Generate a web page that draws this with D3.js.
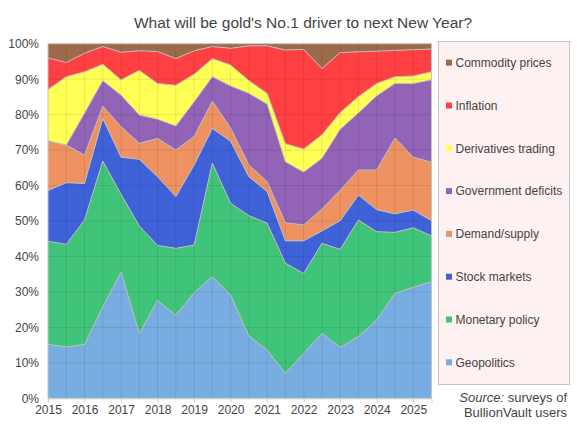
<!DOCTYPE html>
<html>
<head>
<meta charset="utf-8">
<style>
  body { margin: 0; background: #fff; }
  svg { display: block; font-family: "Liberation Sans", Arial, sans-serif; }
</style>
</head>
<body>
<script src="https://d3js.org/d3.v7.min.js"></script>
<script>
  // survey dates, half-yearly
  const years = [2015, 2015.5, 2016, 2016.5, 2017, 2017.5, 2018, 2018.5, 2019, 2019.5,
    2020, 2020.5, 2021, 2021.5, 2022, 2022.5, 2023, 2023.5, 2024, 2024.5, 2025, 2025.5]

  // share of votes, %
  const geopolitics = [15.2, 14.5, 15.2, 25.8, 35.6, 18.3, 27.6, 23.4, 29.8, 34.3, 29.1, 17.6, 13.6, 7.0, 12.7, 18.3, 14.4, 17.4, 22.1, 29.6, 31.3, 32.9]
  const monetary = [29.1, 28.9, 35.1, 41.1, 21.9, 30.3, 15.5, 18.9, 13.4, 32.0, 25.9, 33.9, 35.8, 31.1, 22.5, 25.4, 27.6, 32.9, 24.9, 17.2, 16.8, 12.9]
  const stocks = [14.3, 17.4, 10.3, 12.0, 10.5, 18.8, 19.4, 14.6, 22.6, 9.8, 17.5, 11.0, 8.9, 6.3, 9.2, 3.5, 8.1, 7.0, 6.2, 5.2, 5.0, 4.3]
  const demand = [14.0, 10.6, 8.0, 3.5, 8.6, 4.5, 10.8, 13.1, 8.0, 7.7, 3.7, 3.3, 2.8, 5.1, 4.5, 6.2, 8.6, 7.1, 11.2, 21.4, 14.9, 16.5]
  const deficits = [0, 0, 11.8, 7.2, 8.9, 8.0, 5.4, 6.8, 9.8, 6.9, 11.9, 20.2, 21.9, 17.2, 14.9, 14.3, 17.2, 16.1, 20.9, 15.4, 20.8, 23.2]
  const derivatives = [14.5, 19.3, 11.7, 4.6, 4.3, 12.6, 10.1, 11.5, 7.8, 5.1, 5.9, 3.6, 3.0, 5.1, 6.5, 6.6, 4.7, 4.6, 3.5, 1.9, 2.1, 2.3]
  const inflation = [8.9, 4.0, 5.2, 5.0, 7.8, 5.5, 9.0, 7.5, 6.6, 3.4, 4.7, 9.8, 13.4, 26.4, 28.1, 18.7, 16.9, 12.6, 9.1, 7.4, 7.4, 6.4]
  const commodity = [4.0, 5.3, 2.7, 0.8, 2.4, 2.0, 2.2, 4.2, 2.0, 0.8, 1.3, 0.6, 0.6, 1.8, 1.6, 7.0, 2.5, 2.3, 2.1, 1.9, 1.7, 1.5]

  // bottom to top
  const seriesNames = ['Geopolitics', 'Monetary policy', 'Stock markets', 'Demand/supply',
    'Government deficits', 'Derivatives trading', 'Inflation', 'Commodity prices']
  const seriesValues = [geopolitics, monetary, stocks, demand, deficits, derivatives, inflation, commodity]
  const colors = ['#78ADE2', '#40C47A', '#4062D8', '#EE9262', '#9263B7', '#FFFF55', '#FF4042', '#9E6A4C']

  const xTicks = [2015, 2016, 2017, 2018, 2019, 2020, 2021, 2022, 2023, 2024, 2025]
  const yTicks = [0, 0.1, 0.2, 0.3, 0.4, 0.5, 0.6, 0.7, 0.8, 0.9, 1]

  const width = 577
  const height = 430
  const plot = { left: 48, right: 431.5, top: 43.7, bottom: 398.3 }

  const rows = years.map((yr, i) => {
    const r = { year: yr }
    seriesNames.forEach((n, j) => { r[n] = seriesValues[j][i] })
    return r
  })

  const stacked = d3.stack()
    .keys(seriesNames)
    .offset(d3.stackOffsetExpand)(rows)

  const svg = d3.select('body').append('svg')
    .attr('width', width)
    .attr('height', height)

  const x = d3.scaleLinear().domain([2015, 2025.5]).range([plot.left, plot.right])
  const y = d3.scaleLinear().domain([0, 1]).range([plot.bottom, plot.top])

  // title
  svg.append('text')
    .attr('x', 303)
    .attr('y', 28)
    .attr('text-anchor', 'middle')
    .attr('font-size', '15.5px')
    .attr('fill', '#444')
    .text("What will be gold's No.1 driver to next New Year?")

  // areas
  const area = d3.area()
    .x(d => x(d.data.year))
    .y0(d => y(d[0]))
    .y1(d => y(d[1]))

  svg.append('g').selectAll('path')
    .data(stacked)
    .enter().append('path')
    .attr('d', area)
    .attr('fill', (d, i) => colors[i])

  // grid over the areas
  const grid = svg.append('g')
    .attr('stroke', '#000')
    .attr('stroke-opacity', 0.09)
    .attr('stroke-width', 1)
  grid.selectAll('.h')
    .data(yTicks.slice(1, -1))
    .enter().append('line')
    .attr('x1', plot.left).attr('x2', plot.right)
    .attr('y1', d => y(d)).attr('y2', d => y(d))
  grid.selectAll('.v')
    .data(years.slice(1, -1))
    .enter().append('line')
    .attr('y1', plot.top).attr('y2', plot.bottom)
    .attr('x1', d => x(d)).attr('x2', d => x(d))

  // boundary lines
  const topLine = d3.line()
    .x(d => x(d.data.year))
    .y(d => y(d[1]))
  svg.append('g').selectAll('path')
    .data(stacked.slice(0, -1))
    .enter().append('path')
    .attr('d', topLine)
    .attr('fill', 'none')
    .attr('stroke', '#bdbdbd')
    .attr('stroke-width', 1)

  // frame
  svg.append('rect')
    .attr('x', plot.left).attr('y', plot.top)
    .attr('width', plot.right - plot.left)
    .attr('height', plot.bottom - plot.top)
    .attr('fill', 'none')
    .attr('stroke', '#c4c4c4')

  // axes
  const xAxis = d3.axisBottom(x)
    .tickValues(xTicks)
    .tickFormat(d3.format('d'))
    .tickSize(4)
    .tickPadding(3)
  const gx = svg.append('g')
    .attr('transform', `translate(0,${plot.bottom})`)
    .call(xAxis)
  gx.select('.domain').attr('stroke', '#ccc')
  gx.selectAll('.tick line').attr('stroke', '#ccc')
  gx.selectAll('text').attr('fill', '#444').attr('font-size', '12px')
    .attr('font-family', '"Liberation Sans", Arial, sans-serif')

  const yAxis = d3.axisLeft(y)
    .tickValues(yTicks)
    .tickFormat(d3.format('.0%'))
    .tickSize(0)
    .tickPadding(9)
  const gy = svg.append('g')
    .attr('transform', `translate(${plot.left},0)`)
    .call(yAxis)
  gy.select('.domain').remove()
  gy.selectAll('text').attr('fill', '#444').attr('font-size', '12px')
    .attr('font-family', '"Liberation Sans", Arial, sans-serif')

  // legend
  svg.append('rect')
    .attr('x', 438.5).attr('y', 41.5)
    .attr('width', 131).attr('height', 343)
    .attr('fill', '#FDF1F1')
    .attr('stroke', '#c4c4c4')

  const legendOrder = seriesNames.map((n, i) => i).reverse()
  const leg = svg.append('g').selectAll('g')
    .data(legendOrder)
    .enter().append('g')
    .attr('transform', (d, k) => `translate(446,${62.7 + k * 42.8})`)
  leg.append('rect')
    .attr('x', 0).attr('y', -3)
    .attr('width', 6).attr('height', 6)
    .attr('fill', d => colors[d])
  leg.append('text')
    .attr('x', 9.5).attr('y', 4.3)
    .attr('font-size', '12px')
    .attr('fill', '#444')
    .text(d => seriesNames[d])

  // source note
  const src = svg.append('text')
    .attr('text-anchor', 'end')
    .attr('font-size', '13px')
    .attr('fill', '#444')
  src.append('tspan').attr('x', 567).attr('y', 401.5)
    .attr('font-style', 'italic').text('Source:')
  src.append('tspan').text(' surveys of')
  src.append('tspan').attr('x', 567).attr('y', 417)
    .text('BullionVault users')
</script>
</body>
</html>
